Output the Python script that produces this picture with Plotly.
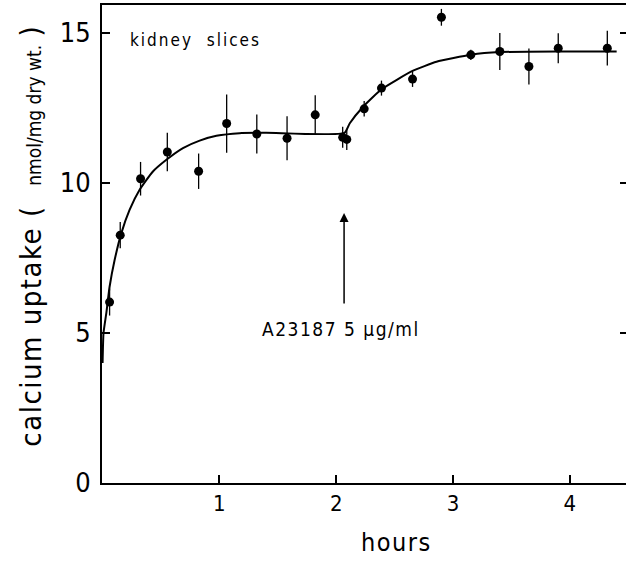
import plotly.graph_objects as go

# measured data (hours, calcium uptake nmol/mg dry wt., error)
hours = [0.06, 0.151, 0.325, 0.554, 0.822, 1.062, 1.32, 1.579, 1.82, 2.055, 2.09,
         2.239, 2.387, 2.653, 2.90, 3.152, 3.40, 3.649, 3.90, 4.32]
uptake = [6.03, 8.26, 10.14, 11.03, 10.39, 11.98, 11.63, 11.49, 12.27, 11.52, 11.45,
          12.47, 13.16, 13.46, 15.52, 14.27, 14.38, 13.88, 14.49, 14.49]
err = [0.45, 0.44, 0.56, 0.64, 0.59, 0.97, 0.65, 0.73, 0.65, 0.35, 0.35,
       0.26, 0.25, 0.26, 0.28, 0.17, 0.62, 0.60, 0.50, 0.58]

# fitted curve
fit_x = [0, 0.008, 0.032, 0.06, 0.103, 0.16, 0.231, 0.317, 0.431, 0.546, 0.688, 0.831,
         0.974, 1.173, 1.40, 2.07, 2.116, 2.23, 2.387, 2.515, 2.658, 2.858, 3.152, 3.40,
         3.943, 4.40]
fit_y = [4.0, 5.0, 5.66, 6.54, 7.43, 8.32, 9.1, 9.77, 10.38, 10.77, 11.16, 11.41,
         11.57, 11.66, 11.67, 11.67, 11.99, 12.54, 13.12, 13.43, 13.74, 14.04, 14.27, 14.36,
         14.38, 14.38]

x_ticks = [1, 2, 3, 4]
y_ticks = [0, 5, 10, 15]
arrow_hour = 2.067
arrow_from, arrow_to = 5.93, 9.0

FONT = "DejaVu Sans Condensed, DejaVu Sans, sans-serif"

fig = go.Figure()
fig.add_trace(go.Scatter(x=fit_x, y=fit_y, mode="lines",
                         line=dict(color="black", width=2, shape="spline", smoothing=0.5),
                         hoverinfo="skip", showlegend=False))
fig.add_trace(go.Scatter(x=hours, y=uptake, mode="markers",
                         marker=dict(color="black", size=9),
                         error_y=dict(type="data", array=err, visible=True,
                                      color="black", thickness=1.3, width=0),
                         showlegend=False))
# invisible trace for the right-hand tick axis
fig.add_trace(go.Scatter(x=[None], y=[None], yaxis="y2", showlegend=False))

fig.update_layout(
    width=626, height=567,
    margin=dict(l=102, r=0, t=5, b=84),
    paper_bgcolor="white", plot_bgcolor="white",
    font=dict(family=FONT, color="black"),
    xaxis=dict(range=[-0.005, 4.48], tickvals=x_ticks, ticktext=[str(v) for v in x_ticks],
               ticks="inside", ticklen=8, tickwidth=1.5, tickcolor="black",
               showline=True, linecolor="black", linewidth=2, mirror=True,
               showgrid=False, zeroline=False,
               tickfont=dict(size=22, family=FONT)),
    yaxis=dict(range=[0, 15.93], tickvals=y_ticks, ticktext=[str(v) for v in y_ticks],
               ticks="inside", ticklen=8, tickwidth=1.5, tickcolor="black",
               showline=True, linecolor="black", linewidth=2, mirror=False,
               showgrid=False, zeroline=False, ticklabelstandoff=4,
               tickfont=dict(size=27, family=FONT)),
    yaxis2=dict(range=[0, 15.93], overlaying="y", side="right", anchor="x",
                tickvals=y_ticks[1:], ticks="inside", ticklen=6, tickwidth=1.5,
                tickcolor="black", showticklabels=False, showline=False,
                showgrid=False, zeroline=False),
    annotations=[
        dict(x=arrow_hour, y=arrow_to, ax=arrow_hour, ay=arrow_from,
             xref="x", yref="y", axref="x", ayref="y", text="",
             showarrow=True, arrowhead=2, arrowsize=1.2, arrowwidth=1.5,
             arrowcolor="black"),
        dict(x=1.348, y=5.13, xref="x", yref="y", xanchor="left", yanchor="middle",
             text='<span style="letter-spacing:1.5px">A23187 5 μg/ml</span>',
             showarrow=False, font=dict(size=19, family=FONT)),
        dict(x=0.218, y=14.77, xref="x", yref="y", xanchor="left", yanchor="middle",
             text='<span style="letter-spacing:2px">kidney  slices</span>',
             showarrow=False, font=dict(size=17, family=FONT)),
        dict(x=(396 - 102) / 524, y=-0.16, xref="paper", yref="paper",
             text='<span style="letter-spacing:1.5px">hours</span>',
             showarrow=False, font=dict(size=25, family=FONT)),
        dict(x=-0.172, y=0.515, xref="paper", yref="paper", textangle=-90,
             text='<span style="letter-spacing:1.5px">calcium uptake (  </span>'
                  '<span style="font-size:19px">nmol/mg dry wt.</span> )',
             showarrow=False, font=dict(size=29, family=FONT)),
    ],
)

fig.write_html("out.html")
